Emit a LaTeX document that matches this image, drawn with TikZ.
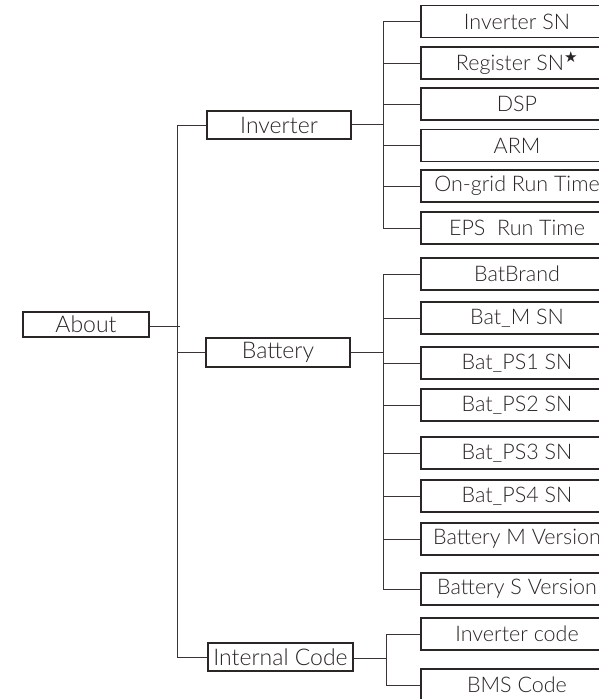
\documentclass[tikz,border=0pt]{standalone}
\usepackage{fontspec}
\setmainfont{Lato Light}
\newfontfamily\symfont{DejaVu Sans}
\definecolor{boxline}{HTML}{2B2626}
\definecolor{conline}{HTML}{3B3434}
\definecolor{txt}{HTML}{2A2525}
\begin{document}
\begin{tikzpicture}[x=1pt,y=-1pt,
  leaf/.style={draw=boxline,line width=1.4pt,minimum width=192pt,minimum height=32pt,inner sep=0pt,text=txt,font=\fontsize{21.5}{24}\selectfont},
  mid/.style={draw=boxline,line width=1.2pt,minimum width=144pt,minimum height=28pt,inner sep=0pt,text=txt,font=\fontsize{23}{25}\selectfont},
  con/.style={draw=conline,line width=1pt}]
\useasboundingbox (0,0) rectangle (599,699);
\clip (0,0) rectangle (599,699);
\fill[white] (0,0) rectangle (599,699);
% left
\node[mid,minimum width=126pt,minimum height=25pt] (about) at (86,324.5) {About};
\node[mid] (inv) at (279,125) {Inverter};
\node[mid,minimum height=29pt] (bat) at (278,352.5) {Battery};
\node[mid,minimum width=145pt] (ic) at (280.5,657) {Internal Code};
% right leaves
\node[leaf] (l1) at (517,21.5) {Inverter SN};
\node[leaf] (l2) at (517,63) {Register SN\textsuperscript{\symfont ★}};
\node[leaf] (l3) at (517,104) {DSP};
\node[leaf] (l4) at (517,145.5) {ARM};
\node[leaf] (l5) at (517,186) {On-grid Run Time};
\node[leaf] (l6) at (517,228) {EPS\ \ Run Time};
\node[leaf] (b1) at (517,274) {BatBrand};
\node[leaf] (b2) at (517,318) {Bat\_M SN};
\node[leaf] (b3) at (517,363) {Bat\_PS1 SN};
\node[leaf] (b4) at (517,405) {Bat\_PS2 SN};
\node[leaf] (b5) at (517,453) {Bat\_PS3 SN};
\node[leaf] (b6) at (517,496) {Bat\_PS4 SN};
\node[leaf] (b7) at (517,539) {Battery M Version};
\node[leaf] (b8) at (517,589) {Battery S Version};
\node[leaf] (c1) at (517,634) {Inverter code};
\node[leaf] (c2) at (517,685) {BMS Code};
% buses
\coordinate (mainbus) at (177,326);
\coordinate (abtip) at (180,326);
\coordinate (invbus) at (383,124);
\coordinate (batbus) at (383,352);
\coordinate (icbus) at (386,658);
\draw[con] (about.east |- abtip) -- (abtip);
\foreach \n in {inv,bat,ic}{\draw[con] (mainbus) |- (\n.west);}
\draw[con] (inv.east |- invbus) -- (invbus);
\draw[con] (bat.east |- batbus) -- (batbus);
\draw[con] (ic.east |- icbus) -- (icbus);
\foreach \n in {l1,l2,l3,l4,l5,l6}{\draw[con] (invbus) |- (\n.west);}
\foreach \n in {b1,b2,b3,b4,b5,b6,b7,b8}{\draw[con] (batbus) |- (\n.west);}
\foreach \n in {c1,c2}{\draw[con] (icbus) |- (\n.west);}
\end{tikzpicture}
\end{document}
